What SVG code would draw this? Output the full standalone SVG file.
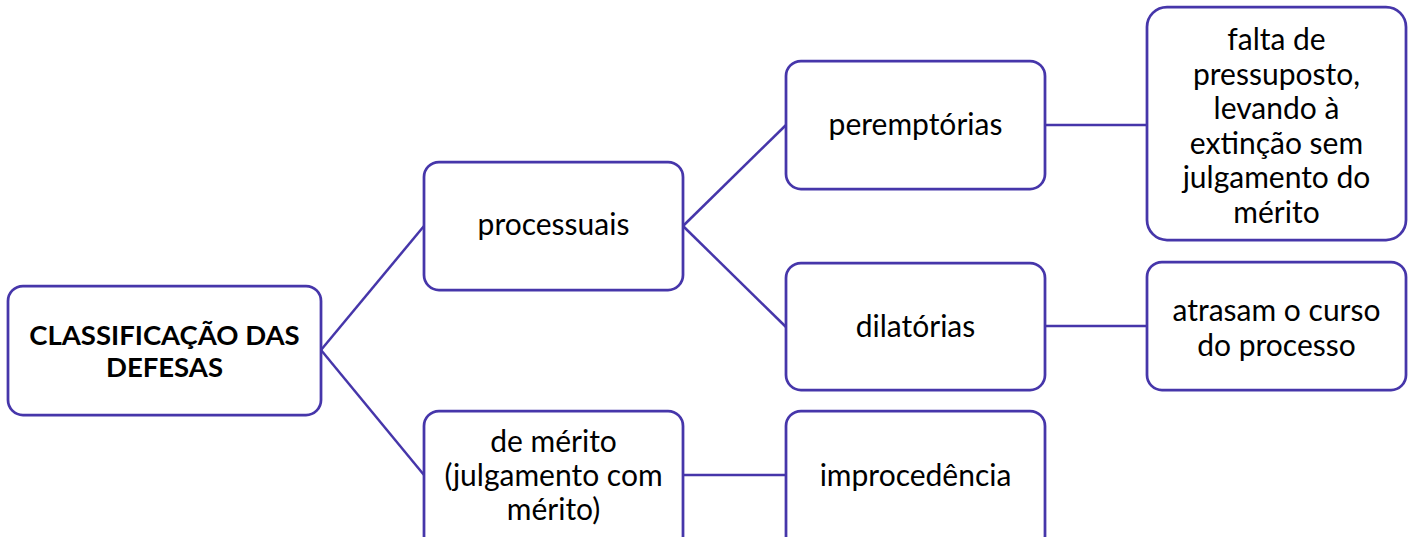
<svg xmlns="http://www.w3.org/2000/svg" width="1411" height="537" viewBox="0 0 1411 537">
<style>
.box{fill:#ffffff;stroke:#4636aa;stroke-width:2.75}
.ln{stroke:#4636aa;stroke-width:2.5;fill:none}
text{font-family:Lato,"Open Sans","Liberation Sans",sans-serif;font-size:30px;fill:#000000;text-anchor:middle}
.b{font-weight:bold;font-size:27.5px}
</style>
<rect width="1411" height="537" fill="#ffffff"/>
<g id="connectors">
<line class="ln" x1="321" y1="350" x2="424" y2="226"/>
<line class="ln" x1="321" y1="350" x2="424" y2="475"/>
<line class="ln" x1="683" y1="226" x2="786" y2="125"/>
<line class="ln" x1="683" y1="226" x2="786" y2="327"/>
<line class="ln" x1="1045" y1="125" x2="1147" y2="125"/>
<line class="ln" x1="1045" y1="326" x2="1147" y2="326"/>
<line class="ln" x1="683" y1="475" x2="786" y2="475"/>
</g>
<g id="root">
<rect class="box" x="8" y="286" width="313" height="129" rx="15"/>
<text class="b" x="164.5" y="345">CLASSIFICAÇÃO DAS</text>
<text class="b" x="164.5" y="377">DEFESAS</text>
</g>
<g id="processuais">
<rect class="box" x="424" y="162" width="259" height="128" rx="15"/>
<text x="553.5" y="235">processuais</text>
</g>
<g id="demerito">
<rect class="box" x="424" y="411" width="259" height="140" rx="15"/>
<text x="553.5" y="452">de mérito</text>
<text x="553.5" y="486">(julgamento com</text>
<text x="553.5" y="520">mérito)</text>
</g>
<g id="peremptorias">
<rect class="box" x="786" y="61" width="259" height="128" rx="15"/>
<text x="915.5" y="135">peremptórias</text>
</g>
<g id="dilatorias">
<rect class="box" x="786" y="263" width="259" height="127" rx="15"/>
<text x="915.5" y="337">dilatórias</text>
</g>
<g id="improcedencia">
<rect class="box" x="786" y="411" width="259" height="140" rx="15"/>
<text x="915.5" y="486">improcedência</text>
</g>
<g id="falta">
<rect class="box" x="1147" y="7" width="259" height="233" rx="20"/>
<text x="1276.5" y="50">falta de</text>
<text x="1276.5" y="84.5">pressuposto,</text>
<text x="1276.5" y="119">levando à</text>
<text x="1276.5" y="153.5">extinção sem</text>
<text x="1276.5" y="188">julgamento do</text>
<text x="1276.5" y="222.5">mérito</text>
</g>
<g id="atrasam">
<rect class="box" x="1147" y="262" width="259" height="128" rx="15"/>
<text x="1276.5" y="321">atrasam o curso</text>
<text x="1276.5" y="356">do processo</text>
</g>
</svg>
